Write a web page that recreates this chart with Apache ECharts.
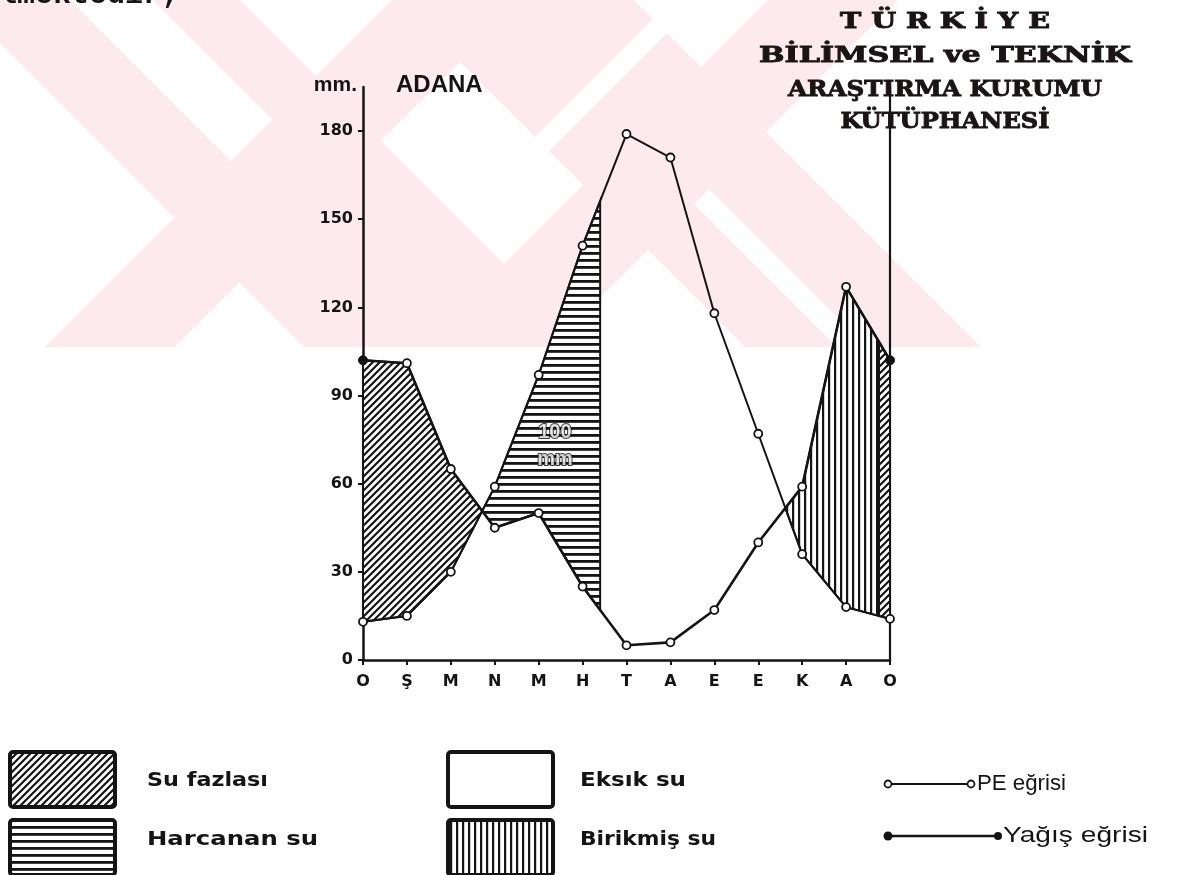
<!DOCTYPE html>
<html>
<head>
<meta charset="utf-8">
<script src="https://cdn.jsdelivr.net/npm/echarts@6/dist/echarts.min.js"></script>
<style>
html,body{margin:0;padding:0;background:#ffffff;}
#c{width:1187px;height:875px;}
</style>
</head>
<body>
<div id="c"></div>
<script>
// ---------------- DATA ----------------
const months = ['O', 'Ş', 'M', 'N', 'M', 'H', 'T', 'A', 'E', 'E', 'K', 'A', 'O'];
const yagis = [102, 101, 65, 45, 50, 25, 5, 6, 17, 40, 59, 127, 102];   // Yağış eğrisi (mm)
const pe = [13, 15, 30, 59, 97, 141, 179, 171, 118, 77, 36, 18, 14];      // PE eğrisi (mm)
const yTicks = [0, 30, 60, 90, 120, 150, 180];
const storageCapacity = 100;          // mm
const storageUsedUpAt = 5.4;          // month position where the 100 mm reserve is exhausted
const storageRefilledAt = 11.75;      // month position where the reserve is full again
const stationName = 'ADANA';
const unitLabel = 'mm.';
const legendLabels = ['Su fazlası', 'Harcanan su', 'Eksık su', 'Birikmiş su'];
const lineLabels = ['PE eğrisi', 'Yağış eğrisi'];
const stampLines = ['T Ü R K İ Y E', 'BİLİMSEL ve TEKNİK', 'ARAŞTIRMA KURUMU', 'KÜTÜPHANESİ'];
const headerFragment = 'lmektedir;';

// ---------------- HELPERS ----------------
const INK = '#141414';
function makePattern(kind) {
  const c = document.createElement('canvas');
  let w = 7, h = 7;
  if (kind === 'horiz') { w = 8; h = 7; }
  if (kind === 'vert') { w = 6; h = 8; }
  c.width = w; c.height = h;
  const g = c.getContext('2d');
  g.fillStyle = '#ffffff';
  g.fillRect(0, 0, w, h);
  g.fillStyle = INK;
  g.strokeStyle = INK;
  if (kind === 'diag') {
    g.lineWidth = 2.2;
    g.beginPath();
    g.moveTo(-2, h + 2); g.lineTo(w + 2, -2);
    g.moveTo(-2, 2); g.lineTo(2, -2);
    g.moveTo(w - 2, h + 2); g.lineTo(w + 2, h - 2);
    g.stroke();
  } else if (kind === 'horiz') {
    g.fillRect(0, 0, w, 2.8);
  } else if (kind === 'vert') {
    g.fillRect(0, 0, 2.2, h);
  }
  return { image: c, repeat: 'repeat' };
}
const pats = { diag: makePattern('diag'), horiz: makePattern('horiz'), vert: makePattern('vert') };

function crossing(i) {
  const d0 = yagis[i] - pe[i], d1 = yagis[i + 1] - pe[i + 1];
  const t = d0 / (d0 - d1);
  return [i + t, yagis[i] + (yagis[i + 1] - yagis[i]) * t];
}
function at(arr, x) {
  const i = Math.min(Math.floor(x), arr.length - 2);
  const t = x - i;
  return arr[i] + (arr[i + 1] - arr[i]) * t;
}
const c1 = crossing(2), c2 = crossing(9);
const s1 = storageUsedUpAt, s2 = storageRefilledAt;

const regions = [
  { pat: 'diag', pts: [[0, yagis[0]], [1, yagis[1]], [2, yagis[2]], c1, [2, pe[2]], [1, pe[1]], [0, pe[0]]] },
  { pat: 'horiz', pts: [c1, [3, pe[3]], [4, pe[4]], [5, pe[5]], [s1, at(pe, s1)], [s1, at(yagis, s1)], [5, yagis[5]], [4, yagis[4]], [3, yagis[3]]] },
  { pat: 'vert', pts: [c2, [10, yagis[10]], [11, yagis[11]], [s2, at(yagis, s2)], [s2, at(pe, s2)], [11, pe[11]], [10, pe[10]]] },
  { pat: 'diag', pts: [[s2, at(yagis, s2)], [12, yagis[12]], [12, pe[12]], [s2, at(pe, s2)]] }
];

function fitScale(text, font, targetW) {
  const ctx = document.createElement('canvas').getContext('2d');
  ctx.font = font;
  return targetW / ctx.measureText(text).width;
}

// ---------------- WATERMARK (background decoration) ----------------
const PINK = '#fdeaee';
const wmBottom = 347;
function backBand(c1v, c2v) { // "\" band: x - y in [c1v, c2v]
  return [[c1v, 0], [c2v, 0], [c2v + wmBottom, wmBottom], [c1v + wmBottom, wmBottom]];
}
function fwdBand(c1v, c2v) { // "/" band: x + y in [c1v, c2v]
  return [[c1v, 0], [c2v, 0], [c2v - wmBottom, wmBottom], [c1v - wmBottom, wmBottom]];
}
const wmPink = [backBand(-43, 240), fwdBand(392, 522), backBand(398, 634), fwdBand(768, 898)];
const wmWhite = [
  [[70, 0], [153, 0], [272.5, 119.5], [231, 161]],
  [[709, 189], [867, 347], [837, 347], [694, 204]],
  [[653, 19], [667, 33], [549, 151], [535, 137]]
];

const graphics = [];
wmPink.forEach(p => graphics.push({ type: 'polygon', z: -20, silent: true, shape: { points: p }, style: { fill: PINK } }));
wmWhite.forEach(p => graphics.push({ type: 'polygon', z: -19, silent: true, shape: { points: p }, style: { fill: '#ffffff' } }));

// header fragment (cut typewriter line)
graphics.push({ type: 'text', x: -1, y: 10, z: 50, silent: true,
  style: { text: headerFragment, font: 'bold 30px "Liberation Mono"', fill: INK, align: 'left', verticalAlign: 'bottom', textAlign: 'left', textVerticalAlign: 'bottom' } });

// stamp
const stampFont = 'bold 23px "DejaVu Serif"';
const stampY = [22, 56, 90, 122];
const stampW = [210, 372, 314, 209];
stampLines.forEach((t, i) => {
  graphics.push({ type: 'text', x: 945, y: stampY[i], z: 50, silent: true,
    scaleX: fitScale(t, stampFont, stampW[i]),
    style: { text: t, font: stampFont, fill: '#1a1414', stroke: '#1a1414', lineWidth: 0.9,
      align: 'center', verticalAlign: 'middle', textAlign: 'center', textVerticalAlign: 'middle' } });
});

// legend boxes
const boxes = [
  { x: 10, y: 752, pat: pats.diag },
  { x: 10, y: 820, pat: pats.horiz },
  { x: 448, y: 752, pat: null },
  { x: 448, y: 820, pat: pats.vert }
];
const legFont = 'bold 19px "DejaVu Sans"';
const legTextX = [147, 147, 580, 580];
const legTextY = [781, 840, 781, 840];
const legTextW = [121, 171, 106, 136];
boxes.forEach((b, i) => {
  graphics.push({ type: 'rect', z: 50, silent: true, shape: { x: b.x, y: b.y, width: 105, height: 55, r: 3 },
    style: { fill: b.pat || '#ffffff', stroke: INK, lineWidth: 4 } });
  graphics.push({ type: 'text', x: legTextX[i], y: legTextY[i], z: 50, silent: true,
    scaleX: fitScale(legendLabels[i], legFont, legTextW[i]),
    style: { text: legendLabels[i], font: legFont, fill: INK, align: 'left', verticalAlign: 'middle', textAlign: 'left', textVerticalAlign: 'middle' } });
});

// line legend
graphics.push({ type: 'line', z: 50, silent: true, shape: { x1: 888, y1: 784, x2: 971, y2: 784 }, style: { stroke: INK, lineWidth: 2 } });
graphics.push({ type: 'circle', z: 51, silent: true, shape: { cx: 888, cy: 784, r: 3.5 }, style: { fill: '#fff', stroke: INK, lineWidth: 1.8 } });
graphics.push({ type: 'circle', z: 51, silent: true, shape: { cx: 971, cy: 784, r: 3.5 }, style: { fill: '#fff', stroke: INK, lineWidth: 1.8 } });
graphics.push({ type: 'line', z: 50, silent: true, shape: { x1: 888, y1: 836, x2: 998, y2: 836 }, style: { stroke: INK, lineWidth: 2.6 } });
graphics.push({ type: 'circle', z: 51, silent: true, shape: { cx: 888, cy: 836, r: 4.5 }, style: { fill: INK } });
graphics.push({ type: 'circle', z: 51, silent: true, shape: { cx: 998, cy: 836, r: 4 }, style: { fill: INK } });
const lineFont = '22px "Liberation Sans"';
graphics.push({ type: 'text', x: 977, y: 784, z: 50, silent: true,
  scaleX: fitScale(lineLabels[0], lineFont, 89),
  style: { text: lineLabels[0], font: lineFont, fill: INK, align: 'left', verticalAlign: 'middle', textAlign: 'left', textVerticalAlign: 'middle' } });
graphics.push({ type: 'text', x: 1003, y: 836, z: 50, silent: true,
  scaleX: fitScale(lineLabels[1], lineFont, 145),
  style: { text: lineLabels[1], font: lineFont, fill: INK, align: 'left', verticalAlign: 'middle', textAlign: 'left', textVerticalAlign: 'middle' } });

// ---------------- CHART ----------------
const chart = echarts.init(document.getElementById('c'), null, { renderer: 'canvas' });
const labelFont = { color: INK, fontFamily: 'DejaVu Sans', fontWeight: 'bold', fontSize: 16 };

const option = {
  animation: false,
  backgroundColor: '#ffffff',
  title: {
    text: stationName, left: 391, top: 68,
    textStyle: { color: INK, fontFamily: 'Liberation Sans', fontWeight: 'bold', fontSize: 24 }
  },
  grid: { left: 363, right: 297, top: 87, bottom: 215, containLabel: false },
  xAxis: {
    type: 'value', min: 0, max: 12, interval: 1,
    axisLine: { show: true, onZero: false, lineStyle: { color: INK, width: 2.5 } },
    axisTick: { show: true, length: 5, lineStyle: { color: INK, width: 2 } },
    axisLabel: Object.assign({ margin: 14, formatter: v => months[v] || '' }, labelFont),
    splitLine: { show: false }
  },
  yAxis: [{
    type: 'value', min: 0, max: 195, position: 'left',
    name: unitLabel, nameLocation: 'end', nameGap: -9,
    nameTextStyle: { color: INK, fontFamily: 'Liberation Sans', fontWeight: 'bold', fontSize: 21, align: 'right', verticalAlign: 'bottom', padding: [0, 6, 0, 0] },
    axisLine: { show: true, onZero: false, lineStyle: { color: INK, width: 2.5 } },
    axisTick: { show: true, length: 5, customValues: yTicks, lineStyle: { color: INK, width: 2 } },
    axisLabel: Object.assign({ margin: 10, customValues: yTicks, formatter: v => (yTicks.indexOf(v) >= 0 ? String(v) : '') }, labelFont),
    splitLine: { show: false }
  }, {
    type: 'value', min: 0, max: 195, position: 'right',
    axisLine: { show: true, onZero: false, lineStyle: { color: INK, width: 2.2 } },
    axisTick: { show: false }, axisLabel: { show: false }, splitLine: { show: false }
  }],
  graphic: { elements: graphics },
  series: [
    {
      type: 'custom', name: 'areas', z: 1, silent: true, clip: false,
      data: regions.map((r, i) => [i, 0]),
      renderItem: function (params, api) {
        const r = regions[params.dataIndex];
        const points = r.pts.map(p => api.coord(p));
        return { type: 'polygon', shape: { points: points },
          style: { fill: pats[r.pat], stroke: INK, lineWidth: 2 } };
      }
    },
    {
      type: 'line', name: lineLabels[0], z: 3, silent: true,
      data: pe.map((v, i) => [i, v]),
      symbol: 'circle', symbolSize: 8,
      lineStyle: { color: INK, width: 2 },
      itemStyle: { color: '#ffffff', borderColor: INK, borderWidth: 1.8 }
    },
    {
      type: 'line', name: lineLabels[1], z: 4, silent: true,
      data: yagis.map((v, i) => {
        const end = (i === 0 || i === yagis.length - 1);
        return { value: [i, v], symbolSize: end ? 9 : 8,
          itemStyle: end ? { color: INK, borderColor: INK, borderWidth: 1 } : { color: '#ffffff', borderColor: INK, borderWidth: 1.8 } };
      }),
      symbol: 'circle',
      lineStyle: { color: INK, width: 2.6 }
    },
    {
      type: 'scatter', name: 'reserve', z: 5, silent: true,
      data: [[4.37, 73]], symbolSize: 0,
      label: { show: true, position: 'inside', formatter: storageCapacity + '\nmm',
        color: '#ffffff', textBorderColor: INK, textBorderWidth: 2,
        fontFamily: 'Liberation Sans', fontWeight: 'bold', fontSize: 20, lineHeight: 27 }
    }
  ]
};
chart.setOption(option);
</script>
</body>
</html>
